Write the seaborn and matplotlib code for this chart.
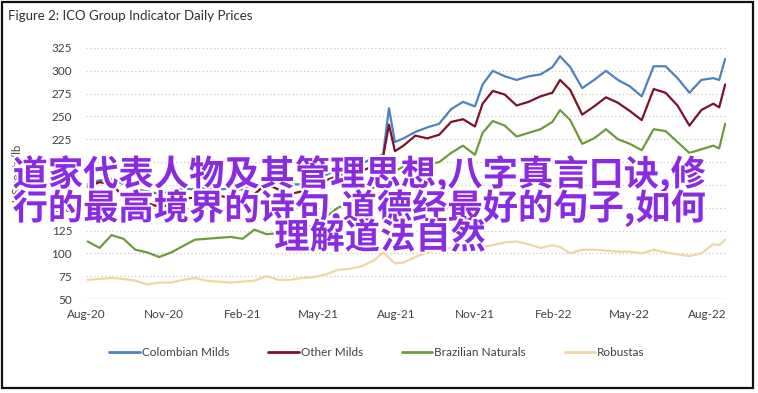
#!/usr/bin/env python3
import matplotlib

matplotlib.use("Agg")

import matplotlib.dates as mdates
import matplotlib.patheffects as pe
import matplotlib.pyplot as plt
import pandas as pd
import seaborn as sns
from matplotlib.patches import Rectangle

# roughly every two weeks
dates = [
    "2020-08-03", "2020-08-17", "2020-08-31", "2020-09-14", "2020-09-28", "2020-10-12",
    "2020-10-26", "2020-11-09", "2020-11-23", "2020-12-07", "2020-12-21", "2021-01-04",
    "2021-01-18", "2021-02-01", "2021-02-15", "2021-03-01", "2021-03-15", "2021-03-29",
    "2021-04-12", "2021-04-26", "2021-05-10", "2021-05-24", "2021-06-07", "2021-06-21",
    "2021-07-05", "2021-07-16", "2021-07-23", "2021-07-30", "2021-08-09", "2021-08-23",
    "2021-09-06", "2021-09-20", "2021-10-04", "2021-10-18", "2021-11-01", "2021-11-10",
    "2021-11-22", "2021-12-06", "2021-12-20", "2022-01-03", "2022-01-17", "2022-01-31",
    "2022-02-09", "2022-02-21", "2022-03-07", "2022-03-21", "2022-04-04", "2022-04-18",
    "2022-05-02", "2022-05-16", "2022-05-30", "2022-06-13", "2022-06-27", "2022-07-11",
    "2022-07-25", "2022-08-08", "2022-08-15", "2022-08-22",
]
colombian_milds = [
    176, 180, 181, 176, 170, 168, 165, 168, 171, 170, 172, 170,
    171, 170, 174, 178, 182, 175, 176, 180, 186, 192, 195, 198,
    205, 208, 259, 222, 226, 233, 238, 242, 258, 266, 261, 285,
    300, 294, 290, 294, 296, 304, 316, 304, 281, 290, 300, 290,
    283, 272, 305, 305, 292, 276, 290, 292, 290, 313,
]
other_milds = [
    173, 178, 176, 162, 160, 155, 151, 153, 160, 161, 160, 163,
    161, 162, 165, 176, 170, 165, 168, 172, 180, 185, 188, 190,
    196, 205, 241, 212, 218, 229, 226, 230, 244, 247, 239, 264,
    278, 274, 262, 266, 272, 276, 290, 279, 252, 261, 271, 265,
    256, 246, 280, 276, 262, 240, 257, 264, 260, 285,
]
brazilian_naturals = [
    113, 106, 120, 116, 104, 101, 96, 101, 108, 115, 116, 117,
    118, 116, 126, 121, 122, 124, 128, 130, 140, 150, 155, 165,
    172, 185, 205, 190, 195, 200, 197, 200, 210, 218, 208, 232,
    245, 240, 228, 232, 236, 244, 257, 246, 220, 226, 236, 225,
    220, 213, 236, 234, 222, 210, 214, 218, 215, 242,
]
robustas = [
    71, 72, 73, 72, 70, 66, 68, 68, 71, 73, 70, 69,
    68, 69, 70, 75, 71, 71, 73, 74, 77, 82, 83, 86,
    92, 101, 95, 89, 90, 96, 101, 104, 106, 104, 106, 107,
    109, 112, 113, 110, 106, 109, 107, 100, 104, 104, 103, 102,
    102, 100, 104, 101, 99, 97, 100, 110, 109, 115,
]
series_names = ["Colombian Milds", "Other Milds", "Brazilian Naturals", "Robustas"]
series_colors = ["#4F81BD", "#7A1328", "#6F9A3C", "#EDD7A4"]
y_ticks = [50, 75, 100, 125, 150, 175, 200, 225, 250, 275, 300, 325]
x_ticks = ["2020-08-01", "2020-11-01", "2021-02-01", "2021-05-01", "2021-08-01",
           "2021-11-01", "2022-02-01", "2022-05-01", "2022-08-01"]

title = "Figure 2: ICO Group Indicator Daily Prices"
overlay_lines = [
    "道家代表人物及其管理思想,八字真言口诀,修",
    "行的最高境界的诗句,道德经最好的句子,如何",
    "理解道法自然",
]

df = pd.DataFrame({
    "date": pd.to_datetime(dates),
    "Colombian Milds": colombian_milds,
    "Other Milds": other_milds,
    "Brazilian Naturals": brazilian_naturals,
    "Robustas": robustas,
})
long = df.melt(id_vars="date", var_name="series", value_name="price")

sns.set_theme(style="white")
plt.rcParams["font.family"] = ["Lato", "DejaVu Sans"]
text_color = "#404040"

fig = plt.figure(figsize=(7.58, 3.93), dpi=100)
ax = fig.add_axes([86 / 758, 1 - 299 / 393, (726 - 86) / 758, (299 - 48) / 393])

sns.lineplot(
    data=long, x="date", y="price", hue="series",
    hue_order=series_names, palette=series_colors,
    linewidth=1.6, ax=ax, legend=False,
)

ax.set_ylim(50, 325)
ax.set_xlim(pd.Timestamp("2020-08-01"), pd.Timestamp("2022-08-23"))
ax.set_yticks(y_ticks)
ax.set_xticks(pd.to_datetime(x_ticks))
ax.xaxis.set_major_formatter(mdates.DateFormatter("%b-%y"))
for v in y_ticks[1:]:
    ax.axhline(v, color="#C8C8C8", lw=0.9, ls=(0, (1, 2)), zorder=0)
ax.axhline(50, color="#D0D0D0", lw=1.0, zorder=0)
for s in ax.spines.values():
    s.set_visible(False)
ax.tick_params(axis="both", length=0, labelsize=8.5, colors=text_color)
ax.tick_params(axis="y", pad=10)
ax.tick_params(axis="x", pad=7)
ax.set_xlabel("")
ax.set_ylabel("US cents/lb", fontsize=8, color=text_color, labelpad=6)
ax.yaxis.set_label_coords(-0.098, 0.5)

handles = [plt.Line2D([], [], color=c, lw=2) for c in series_colors]
fig.legend(
    handles, series_names, loc="center", ncol=4, frameon=False,
    bbox_to_anchor=(377 / 758, 1 - 353 / 393), fontsize=8.5,
    handlelength=2.6, handletextpad=0.15, columnspacing=3.3,
    labelcolor=text_color,
)

fig.text(8 / 758, 1 - 16 / 393, title, fontsize=9.5, color="#303030", va="center", ha="left")

fig.patches.append(Rectangle((2 / 758, 5 / 393), 751 / 758, 386 / 393, transform=fig.transFigure,
                             fill=False, edgecolor="#111111", lw=1.6))

cjk = ["Noto Sans CJK SC", "DejaVu Sans"]
outline = [pe.withStroke(linewidth=3, foreground="white")]
for line, (cx, cy) in zip(overlay_lines, [(359, 174), (359, 208), (380, 238)]):
    fig.text(cx / 758, 1 - cy / 393, line, family=cjk, fontsize=25.4, fontweight="bold",
             color="#8A2BE2", ha="center", va="center", path_effects=outline)

fig.savefig("out.png", dpi=100)
